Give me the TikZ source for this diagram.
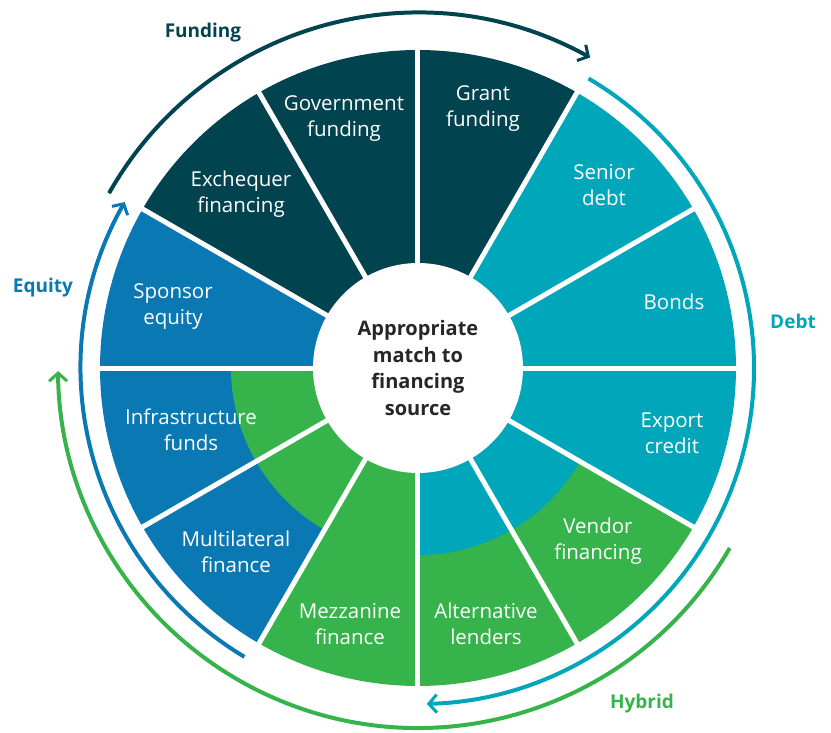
\documentclass[tikz,border=0pt]{standalone}
\usepackage{fontspec}
\setmainfont{Open Sans}
\usetikzlibrary{arrows.meta}
\definecolor{cfund}{HTML}{01444F}
\definecolor{cdebt}{HTML}{00A6B9}
\definecolor{cequ}{HTML}{0A78B3}
\definecolor{chyb}{HTML}{36B34A}
\definecolor{ctext}{HTML}{262626}
\tikzset{
  segtext/.style={text=white, align=center, font=\fontsize{20.5}{26}\selectfont},
  grouplabel/.style={font=\bfseries\fontsize{19}{23}\selectfont},
  ringarrow/.style={line width=4pt, -{Straight Barb[length=8pt,width=18pt,line width=3pt]}},
  gapline/.style={white, line width=5pt},
}
\newcommand{\sector}[4]{\fill[#1] (0,0) -- (#2:#4) arc[start angle=#2, end angle=#3, radius=#4] -- cycle;}
\begin{document}
\begin{tikzpicture}[x=1pt,y=1pt]
\useasboundingbox (-418,-364) rectangle (413,368);
% outer sectors
\sector{cfund}{60}{90}{318}
\sector{cfund}{90}{120}{318}
\sector{cfund}{120}{150}{318}
\sector{cequ}{150}{180}{318}
\sector{cequ}{180}{210}{318}
\sector{cequ}{210}{240}{318}
\sector{chyb}{240}{270}{318}
\sector{chyb}{270}{300}{318}
\sector{chyb}{300}{330}{318}
\sector{cdebt}{330}{360}{318}
\sector{cdebt}{0}{30}{318}
\sector{cdebt}{30}{60}{318}
% inner rings
\sector{chyb}{180}{240}{187}
\sector{cdebt}{270}{330}{187}
% gaps
\foreach \a in {0,30,...,330} { \draw[gapline] (0,0) -- (\a:322); }
\fill[white] (0,0) circle[radius=105];
% center text
\node[align=center, text=ctext, font=\bfseries\fontsize{20}{26.5}\selectfont] (center) at (0,0) {Appropriate\\match to\\financing\\source};
% segment texts
\node[segtext] (grant) at (65,259) {Grant\\funding};
\node[segtext] (gov) at (-74,249) {Government\\funding};
\node[segtext] (exch) at (-177,174) {Exchequer\\financing};
\node[segtext] (senior) at (186,183) {Senior\\debt};
\node[segtext] (bonds) at (256,66) {Bonds};
\node[segtext] (export) at (254,-65) {Export\\credit};
\node[segtext] (vendor) at (180,-173) {Vendor\\financing};
\node[segtext] (alt) at (68,-256) {Alternative\\lenders};
\node[segtext] (mezz) at (-68,-256) {Mezzanine\\finance};
\node[segtext] (multi) at (-182,-184) {Multilateral\\finance};
\node[segtext] (infra) at (-227,-62) {Infrastructure\\funds};
\node[segtext] (sponsor) at (-245,61) {Sponsor\\equity};
% ring arrows
\draw[ringarrow, cfund] (150.5:355) arc[start angle=150.5, end angle=61, radius=355];
\draw[ringarrow, cdebt] (59.5:336) arc[start angle=59.5, end angle=-88.5, radius=336];
\draw[ringarrow, cequ] (-121:337) arc[start angle=-121, end angle=-209.5, radius=337];
\draw[ringarrow, chyb] (-30:360) arc[start angle=-30, end angle=-179.5, radius=360];
% group labels
\node[grouplabel, text=cfund] (lfund) at (-215,335) {Funding};
\node[grouplabel, text=cdebt] (ldebt) at (375,47) {Debt};
\node[grouplabel, text=cequ] (lequ) at (-375,80) {Equity};
\node[grouplabel, text=chyb] (lhyb) at (224,-336) {Hybrid};
\end{tikzpicture}
\end{document}
